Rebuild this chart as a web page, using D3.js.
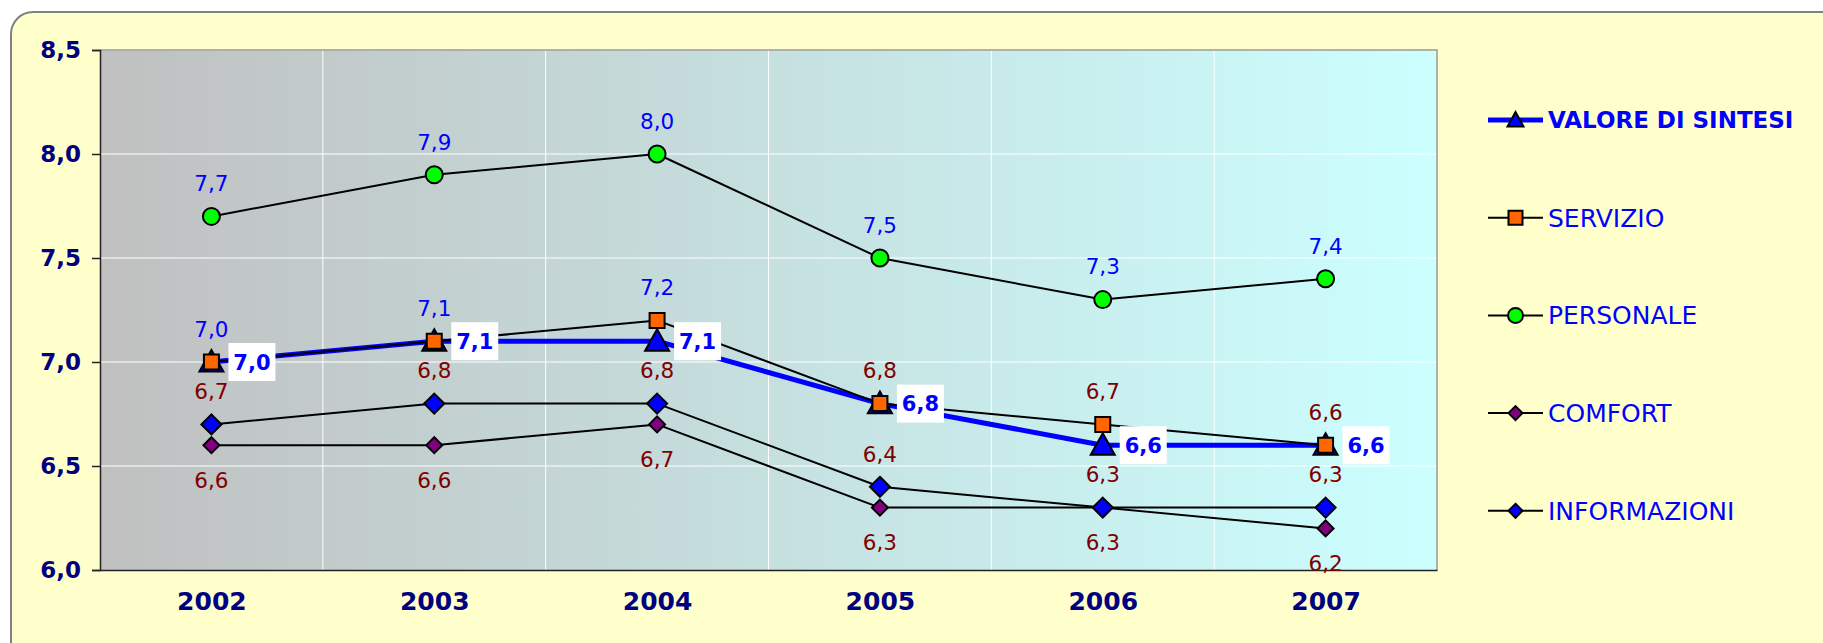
<!DOCTYPE html>
<html>
<head>
<meta charset="utf-8">
<script src="https://cdn.jsdelivr.net/npm/d3@7"></script>
<style>
  html, body { margin: 0; padding: 0; background: #ffffff; }
  svg { display: block; }
  text { font-family: "DejaVu Sans", Verdana, sans-serif; }
</style>
</head>
<body>
<svg id="chart" width="1823" height="643"></svg>
<script>
// ---------- DATA ----------
const years = ["2002", "2003", "2004", "2005", "2006", "2007"];
const seriesNames = ["VALORE DI SINTESI", "SERVIZIO", "PERSONALE", "COMFORT", "INFORMAZIONI"];
const sintesi      = [7.0, 7.1, 7.1, 6.8, 6.6, 6.6];
const servizio     = [7.0, 7.1, 7.2, 6.8, 6.7, 6.6];
const personale    = [7.7, 7.9, 8.0, 7.5, 7.3, 7.4];
const comfort      = [6.6, 6.6, 6.7, 6.3, 6.3, 6.2];
const informazioni = [6.7, 6.8, 6.8, 6.4, 6.3, 6.3];
const yTicks = [6.0, 6.5, 7.0, 7.5, 8.0, 8.5];

// ---------- STYLES ----------
const blue = "#0000ff", dred = "#800000", navy = "#000080";
const servizioLabelColors = [blue, blue, blue, dred, dred, dred];

const series = [
  { name: seriesNames[0], values: sintesi, line: blue, lw: 5, shape: "triangle", fill: blue, size: 24, label: "box" },
  { name: seriesNames[1], values: servizio, line: "#000", lw: 2, shape: "square", fill: "#ff6600", size: 15, label: "above", colors: servizioLabelColors },
  { name: seriesNames[2], values: personale, line: "#000", lw: 2, shape: "circle", fill: "#00ff00", size: 17, label: "above", colors: years.map(() => blue) },
  { name: seriesNames[3], values: comfort, line: "#000", lw: 2, shape: "diamond", fill: "#800080", size: 16, label: "below", colors: years.map(() => dred) },
  { name: seriesNames[4], values: informazioni, line: "#000", lw: 2, shape: "diamond", fill: "#0000ff", size: 20, label: "above", colors: years.map(() => dred) }
];

const fmt = v => d3.format(".1f")(v).replace(".", ",");

const svg = d3.select("#chart");
const plot = { left: 100, right: 1437, top: 50, bottom: 570 };

// outer frame
svg.append("rect").attr("x", 11).attr("y", 12).attr("width", 1840).attr("height", 660)
  .attr("rx", 22).attr("ry", 22).attr("fill", "#ffffcc").attr("stroke", "#808080").attr("stroke-width", 2);

// gradient
const defs = svg.append("defs");
const grad = defs.append("linearGradient").attr("id", "bg").attr("x1", "0").attr("x2", "1").attr("y1", "0").attr("y2", "0");
grad.append("stop").attr("offset", "0%").attr("stop-color", "#c0c0c0");
grad.append("stop").attr("offset", "100%").attr("stop-color", "#ccffff");

const x = d3.scalePoint().domain(years).range([plot.left, plot.right]).padding(0.5);
const y = d3.scaleLinear().domain([6, 8.5]).range([plot.bottom, plot.top]);
const step = x.step();

svg.append("rect").attr("x", plot.left).attr("y", plot.top)
  .attr("width", plot.right - plot.left).attr("height", plot.bottom - plot.top).attr("fill", "url(#bg)");

// gridlines
const g = svg.append("g");
g.selectAll("line.h").data(yTicks.slice(1)).join("line")
  .attr("x1", plot.left).attr("x2", plot.right)
  .attr("y1", d => y(d)).attr("y2", d => y(d))
  .attr("stroke", "#ffffff").attr("stroke-width", 1);
g.selectAll("line.v").data(years.slice(1)).join("line")
  .attr("x1", d => x(d) - step / 2).attr("x2", d => x(d) - step / 2)
  .attr("y1", plot.top).attr("y2", plot.bottom)
  .attr("stroke", "#ffffff").attr("stroke-width", 1);

// plot border top/right
svg.append("path").attr("d", `M${plot.left},${plot.top}H${plot.right}V${plot.bottom}`)
  .attr("fill", "none").attr("stroke", "#999999").attr("stroke-width", 1.5);

// y axis
const yAxis = d3.axisLeft(y).tickValues(yTicks).tickSize(8).tickPadding(11).tickFormat(fmt);
const ya = svg.append("g").attr("transform", `translate(${plot.left},0)`).call(yAxis);
ya.select(".domain").attr("stroke", "#222").attr("stroke-width", 1.5);
ya.selectAll(".tick line").attr("stroke", "#222").attr("stroke-width", 1.5);
ya.selectAll(".tick text").attr("fill", navy).attr("font-size", 23).attr("font-weight", "bold")
  .attr("font-family", "DejaVu Sans, Verdana, sans-serif");

// x axis
const xAxis = d3.axisBottom(x).tickSize(0).tickPadding(22);
const xa = svg.append("g").attr("transform", `translate(0,${plot.bottom})`).call(xAxis);
xa.select(".domain").attr("stroke", "#222").attr("stroke-width", 1.5);
xa.selectAll(".tick text").attr("fill", navy).attr("font-size", 25).attr("font-weight", "bold")
  .attr("font-family", "DejaVu Sans, Verdana, sans-serif");

// marker generator
function markerPath(shape, s) {
  const h = s / 2;
  if (shape === "triangle") return `M0,${-h}L${h},${h * 0.8}L${-h},${h * 0.8}Z`;
  if (shape === "square") return `M${-h},${-h}H${h}V${h}H${-h}Z`;
  if (shape === "diamond") return `M0,${-h}L${h},0L0,${h}L${-h},0Z`;
  return d3.symbol().type(d3.symbolCircle).size(Math.PI * h * h)();
}

const lineGen = d3.line().x((d, i) => x(years[i])).y(d => y(d));

series.forEach(s => {
  const sg = svg.append("g");
  sg.append("path").attr("d", lineGen(s.values)).attr("fill", "none")
    .attr("stroke", s.line).attr("stroke-width", s.lw).attr("stroke-linejoin", "round");
  sg.selectAll("path.m").data(s.values).join("path")
    .attr("transform", (d, i) => `translate(${x(years[i])},${y(d)})`)
    .attr("d", markerPath(s.shape, s.size))
    .attr("fill", s.fill).attr("stroke", "#000").attr("stroke-width", 2);
});

// labels on top
series.forEach(s => {
  const lg = svg.append("g");
  if (s.label === "box") {
    s.values.forEach((v, i) => {
      const cx = x(years[i]) + 17, cy = y(v);
      lg.append("rect").attr("x", cx).attr("y", cy - 19).attr("width", 47).attr("height", 38).attr("fill", "#fff");
      lg.append("text").attr("x", cx + 23.5).attr("y", cy).attr("dy", "0.36em")
        .attr("text-anchor", "middle").attr("font-size", 21).attr("font-weight", "bold")
        .attr("fill", blue).text(fmt(v));
    });
  } else {
    lg.selectAll("text").data(s.values).join("text")
      .attr("x", (d, i) => x(years[i]))
      .attr("y", d => y(d) + (s.label === "above" ? -33 : 35))
      .attr("dy", "0.36em").attr("text-anchor", "middle").attr("font-size", 21.5)
      .attr("fill", (d, i) => s.colors[i]).text(d => fmt(d));
  }
});

// legend
const legY0 = 120, legStep = 97.7;
const leg = svg.append("g");
series.forEach((s, i) => {
  const ly = legY0 + i * legStep;
  leg.append("line").attr("x1", 1488).attr("x2", 1543).attr("y1", ly).attr("y2", ly)
    .attr("stroke", s.line).attr("stroke-width", s.lw);
  leg.append("path").attr("transform", `translate(1515.5,${ly})`)
    .attr("d", markerPath(s.shape, i === 0 ? 16 : (s.shape === "circle" ? 15 : 14)))
    .attr("fill", s.fill).attr("stroke", "#000").attr("stroke-width", 2);
  leg.append("text").attr("x", 1548).attr("y", ly).attr("dy", "0.36em")
    .attr("font-size", i === 0 ? 23 : 25).attr("font-weight", i === 0 ? "bold" : "normal")
    .attr("fill", blue).text(s.name);
});
</script>
</body>
</html>
